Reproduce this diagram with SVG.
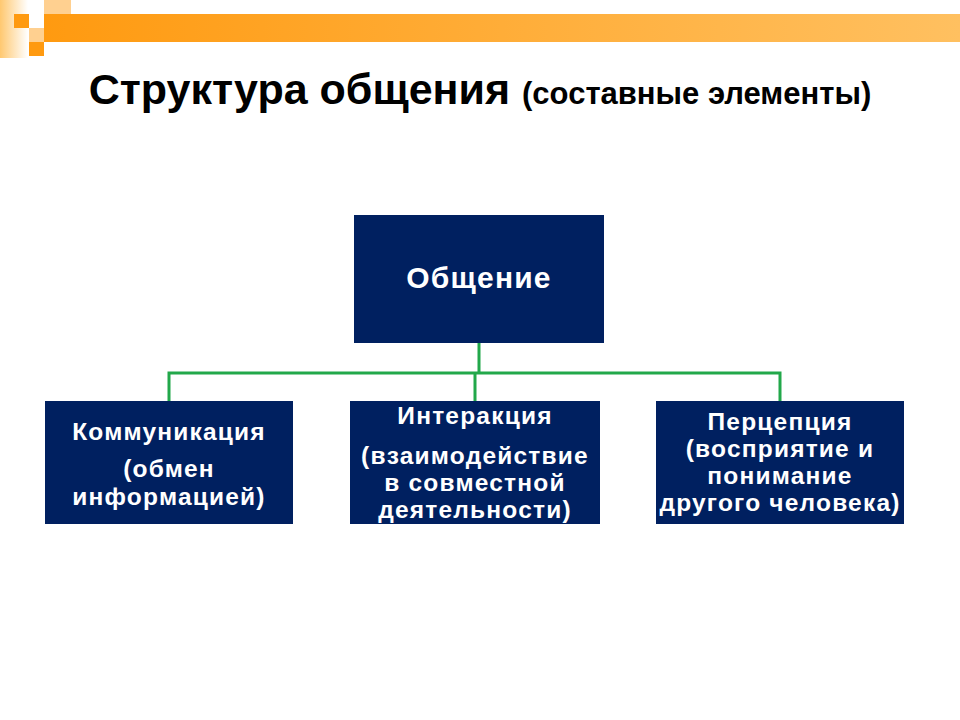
<svg xmlns="http://www.w3.org/2000/svg" width="960" height="720" viewBox="0 0 960 720">
<defs>
<linearGradient id="bar" x1="0" x2="1" y1="0" y2="0"><stop offset="0" stop-color="#FF9A10"/><stop offset="1" stop-color="#FFC060"/></linearGradient>
<linearGradient id="side" x1="0" x2="1" y1="0" y2="0"><stop offset="0" stop-color="#FFC870"/><stop offset="1" stop-color="#FFFFFF"/></linearGradient>
<style>
.box{fill:#002060}
.t{font-family:"Liberation Sans",Arial,sans-serif;font-weight:bold;fill:#fff;text-anchor:middle;font-size:24.5px;letter-spacing:1.2px}
.c{stroke:#22A84A;stroke-width:3;fill:none}
</style>
</defs>
<rect width="960" height="720" fill="#fff"/>
<g id="decor">
<rect x="0" y="0" width="28" height="58" fill="url(#side)"/>
<rect x="44" y="14" width="916" height="28" fill="url(#bar)"/>
<rect x="14" y="14" width="15" height="14" fill="#FF9A10"/>
<rect x="44" y="0" width="27" height="14" fill="#FFD090"/>
<rect x="29" y="28" width="15" height="14" fill="#FFD090"/>
<rect x="29" y="42" width="15" height="14" fill="#FF9A10"/>
</g>
<text x="480" y="104" font-family="'Liberation Sans',Arial,sans-serif" font-weight="bold" text-anchor="middle" fill="#000"><tspan font-size="43">Структура общения </tspan><tspan font-size="31">(составные элементы)</tspan></text>
<g id="connectors">
<path class="c" d="M479 343V373M169 401V373H780V401M475 373V401"/>
</g>
<g id="root"><rect class="box" x="354" y="215" width="250" height="128"/><text class="t" x="479" y="288" style="font-size:30px">Общение</text></g>
<g id="n1"><rect class="box" x="45" y="401" width="248" height="123"/>
<text class="t" x="169" y="440">Коммуникация</text><text class="t" x="169" y="477">(обмен</text><text class="t" x="169" y="505">информацией)</text></g>
<g id="n2"><rect class="box" x="350" y="401" width="250" height="123"/>
<text class="t" x="475" y="424">Интеракция</text><text class="t" x="475" y="464">(взаимодействие</text><text class="t" x="475" y="491">в совместной</text><text class="t" x="475" y="518">деятельности)</text></g>
<g id="n3"><rect class="box" x="656" y="401" width="248" height="123"/>
<text class="t" x="780" y="430">Перцепция</text><text class="t" x="780" y="457">(восприятие и</text><text class="t" x="780" y="484">понимание</text><text class="t" x="780" y="511">другого человека)</text></g>
</svg>
